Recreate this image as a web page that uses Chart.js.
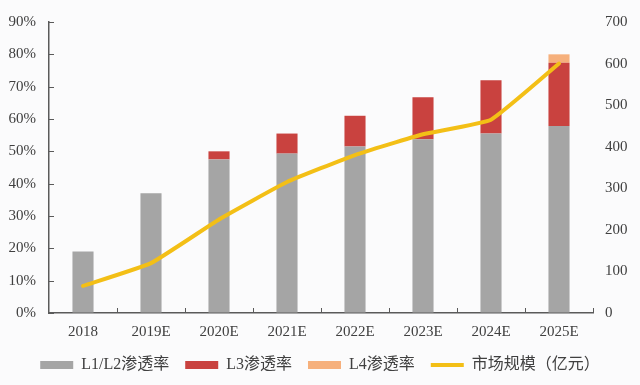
<!DOCTYPE html>
<html>
<head>
<meta charset="utf-8">
<script src="https://cdn.jsdelivr.net/npm/chart.js@4.4.1/dist/chart.umd.min.js"></script>
<style>
  body { margin: 0; background: #fbfbfc; }
  #wrap { width: 640px; height: 385px; position: relative; }
</style>
</head>
<body>
<div id="wrap"><canvas id="chart"></canvas></div>
<script>
// 数据
var years = ['2018', '2019E', '2020E', '2021E', '2022E', '2023E', '2024E', '2025E'];
var l1l2Rate = [19, 37, 47.5, 49.3, 51.5, 53.7, 55.5, 57.8];
var l3Rate = [0, 0, 2.5, 6.2, 9.5, 13, 16.5, 19.6];
var l4Rate = [0, 0, 0, 0, 0, 0, 0, 2.6];
var marketSize = [65, 120, 225, 315, 380, 430, 465, 600];

var fontFamily = '"Liberation Serif", "Noto Sans CJK SC", serif';
var axisColor = '#5a5a5a';
var textColor = '#404040';

// 刻度线画在坐标轴内侧
var innerTicks = {
    id: 'innerTicks',
    afterDatasetsDraw: function(chart) {
        var c = chart.ctx;
        var area = chart.chartArea;
        var xs = chart.scales.x;
        var ys = chart.scales.y;
        c.save();
        c.strokeStyle = axisColor;
        c.lineWidth = 1;
        c.beginPath();
        ys.ticks.forEach(function(t) {
            var py = Math.round(ys.getPixelForValue(t.value)) + 0.5;
            c.moveTo(area.left, py);
            c.lineTo(area.left + 5, py);
        });
        var step = xs.getPixelForTick(1) - xs.getPixelForTick(0);
        for (var i = 1; i <= years.length; i++) {
            var px = Math.round(xs.getPixelForTick(0) - step / 2 + step * i) + 0.5;
            c.moveTo(px, area.bottom);
            c.lineTo(px, area.bottom - 5);
        }
        c.stroke();
        c.restore();
    }
};

var ctx = document.getElementById('chart');

var chart = new Chart(ctx, {
    data: {
        labels: years,
        datasets: [
            {
                type: 'bar',
                label: 'L1/L2渗透率',
                data: l1l2Rate,
                backgroundColor: '#a5a5a5',
                pointStyle: 'rect',
                yAxisID: 'y',
                order: 1
            },
            {
                type: 'bar',
                label: 'L3渗透率',
                data: l3Rate,
                backgroundColor: '#c9423f',
                pointStyle: 'rect',
                yAxisID: 'y',
                order: 2
            },
            {
                type: 'bar',
                label: 'L4渗透率',
                data: l4Rate,
                backgroundColor: '#f6b07c',
                pointStyle: 'rect',
                yAxisID: 'y',
                order: 3
            },
            {
                type: 'line',
                label: '市场规模（亿元）',
                data: marketSize,
                borderColor: '#f3bf16',
                backgroundColor: '#f3bf16',
                borderWidth: 4,
                pointRadius: 0,
                pointStyle: 'line',
                tension: 0.12,
                borderCapStyle: 'round',
                yAxisID: 'y1',
                order: 0
            }
        ]
    },
    options: {
        responsive: true,
        maintainAspectRatio: false,
        animation: false,
        layout: { padding: { top: 6, bottom: 2, left: 0, right: 0 } },
        datasets: {
            bar: { barPercentage: 0.31, categoryPercentage: 1.0, borderWidth: 0 }
        },
        plugins: {
            tooltip: { enabled: false },
            legend: {
                position: 'bottom',
                labels: {
                    usePointStyle: true,
                    pointStyleWidth: 33,
                    boxHeight: 8,
                    padding: 16,
                    color: textColor,
                    font: { family: fontFamily, size: 16 },
                    sort: function(a, b) { return a.datasetIndex - b.datasetIndex; }
                }
            }
        },
        scales: {
            x: {
                stacked: true,
                grid: { drawOnChartArea: false, drawTicks: false },
                border: { color: axisColor, width: 1.5 },
                ticks: { color: textColor, padding: 10, font: { family: fontFamily, size: 15 } },
                afterFit: function(scale) { scale.height = 28; }
            },
            y: {
                stacked: true,
                position: 'left',
                min: 0,
                max: 90,
                grid: { drawOnChartArea: false, drawTicks: false },
                border: { color: axisColor, width: 1.5 },
                ticks: {
                    stepSize: 10,
                    padding: 13,
                    color: textColor,
                    font: { family: fontFamily, size: 15 },
                    callback: function(v) { return v + '%'; }
                },
                afterFit: function(scale) { scale.width = 49; }
            },
            y1: {
                position: 'right',
                min: 0,
                max: 700,
                grid: { display: false, drawTicks: false },
                border: { display: false },
                ticks: {
                    stepSize: 100,
                    padding: 12,
                    color: textColor,
                    font: { family: fontFamily, size: 15 }
                },
                afterFit: function(scale) { scale.width = 47; }
            }
        }
    },
    plugins: [innerTicks]
});
</script>
</body>
</html>
